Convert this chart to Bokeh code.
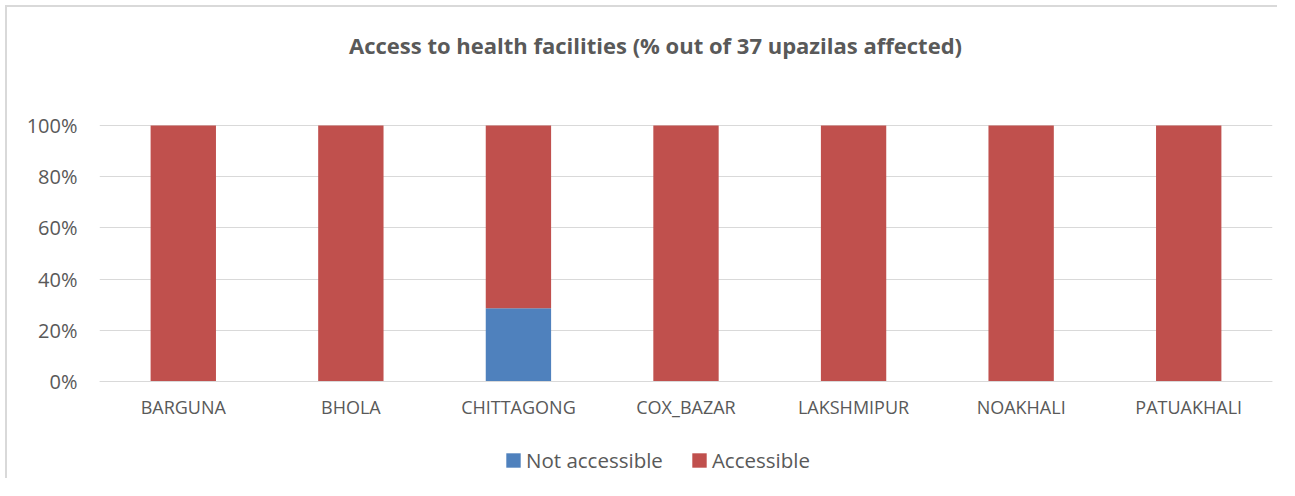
from bokeh.plotting import figure
from bokeh.models import (FactorRange, Range1d, NumeralTickFormatter, FixedTicker,
                          Legend, LegendItem, Label)
from bokeh.embed import file_html
from bokeh.resources import INLINE

categories = ["BARGUNA", "BHOLA", "CHITTAGONG", "COX_BAZAR", "LAKSHMIPUR", "NOAKHALI", "PATUAKHALI"]
not_accessible = [0.0, 0.0, 0.2857, 0.0, 0.0, 0.0, 0.0]
accessible = [1.0, 1.0, 0.7143, 1.0, 1.0, 1.0, 1.0]
series = ["not_accessible", "accessible"]
series_labels = ["Not accessible", "Accessible"]
y_ticks = [0, 0.2, 0.4, 0.6, 0.8, 1.0]
title_text = "Access to health facilities (% out of 37 upazilas affected)"

FONT = "Open Sans"
TXT = "#595959"
GRID = "#d9d9d9"
colors = ["#4f81bd", "#c0504d"]

p = figure(x_range=FactorRange(*categories, range_padding=0),
           y_range=Range1d(-99 / 256, 1 + 118 / 256),
           width=1272, height=473, output_backend="svg", toolbar_location=None,
           min_border_left=92, min_border_right=7, min_border_top=0, min_border_bottom=0)
p.outline_line_color = None
p.styles = {"margin-left": "5px", "margin-top": "5px",
            "border-left": "2px solid #d9d9d9", "border-top": "2px solid #d9d9d9"}

data = {"cat": categories, "not_accessible": not_accessible, "accessible": accessible}
rs = p.vbar_stack(series, x="cat", width=0.39, color=colors, line_color=None, source=data)

p.yaxis.ticker = FixedTicker(ticks=y_ticks)
p.yaxis.formatter = NumeralTickFormatter(format="0%")
p.yaxis.axis_line_color = None
p.yaxis.major_tick_line_color = None
p.yaxis.minor_tick_line_color = None
p.yaxis.major_label_standoff = 16
p.yaxis.major_label_text_font_size = "20px"
p.xaxis.fixed_location = 0
p.xaxis.axis_line_color = GRID
p.xaxis.axis_line_width = 1
p.xaxis.major_tick_line_color = None
p.xaxis.major_label_standoff = 7
p.xaxis.major_label_text_font_size = "18px"
for ax in (p.xaxis, p.yaxis):
    ax.major_label_text_font = FONT
    ax.major_label_text_color = TXT
p.xgrid.grid_line_color = None
p.ygrid.grid_line_color = GRID
p.ygrid.grid_line_width = 1

p.add_layout(Label(x=3.318, y=1.316, text=title_text,
                   text_font=FONT, text_font_size="22px", text_font_style="bold",
                   text_color=TXT, text_align="center", text_baseline="middle"))

legend = Legend(items=[LegendItem(label=l, renderers=[r]) for l, r in zip(series_labels, rs)],
                location=(405, 6), orientation="horizontal",
                label_text_font=FONT, label_text_font_size="20.5px", label_text_color=TXT,
                glyph_width=18, glyph_height=18, label_height=14, label_standoff=4,
                spacing=27, padding=0, margin=0, border_line_color=None,
                background_fill_alpha=0)
p.add_layout(legend, "center")

open("out.html", "w").write(file_html(p, INLINE))
